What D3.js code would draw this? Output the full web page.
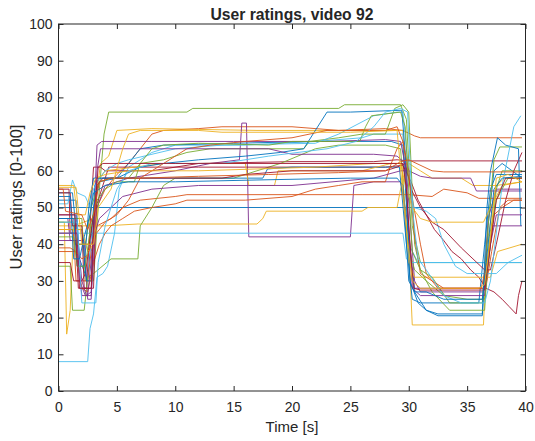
<!DOCTYPE html>
<html>
<head>
<meta charset="utf-8">
<script src="https://cdn.jsdelivr.net/npm/d3@7"></script>
<style>
  body { margin: 0; background: #fff; }
  text { font-family: "Liberation Sans", Arial, Helvetica, sans-serif; fill: #262626; }
</style>
</head>
<body>
<div id="chart"></div>
<script>
// each user: [time (s), rating] points
const u01 = [[0,50],[39.7,50]];
const u02 = [[0,44],[1.2,44],[1.4,40],[2.6,40],[3.0,48],[4,55],[5,59],[6,62],[7,66],[8,70],[9,71],[12,71.5],[14,72],[20,72],[24,71],[28,71.5],[29.5,71],[30.5,69.5],[31,69],[39.7,69]];
const u03 = [[0,46],[0.5,46],[0.7,15.5],[1.0,22],[1.3,45],[3,47],[3.6,62],[4.3,64],[5,71],[8,71.5],[17,71],[22,71],[29.5,71],[30,40],[30.3,18],[36.4,18],[36.7,40],[37.5,56],[39.7,57]];
const u04 = [[0,48],[1.5,48],[1.8,30],[2.3,26],[2.8,26],[3.3,50],[4,56],[6,58],[10,60],[13,62],[15.5,63],[15.7,73],[16.1,73],[16.3,42],[25,42],[25.3,56],[27,57],[29.3,57],[29.8,48],[30.5,28],[36.5,28],[37.2,45],[39.7,45]];
const u05 = [[0,47],[2,47],[2.3,30],[3.0,30],[3.5,55],[3.9,70],[4.3,76],[11,76],[11.5,77],[24,77],[24.5,78],[29.3,78],[29.8,74],[30.3,45],[31,35],[39.7,35]];
const u06 = [[0,8],[2.5,8],[2.7,17],[3.0,21],[3.3,31],[3.8,32],[4.2,34],[4.8,43],[5.2,55],[6,61],[8,65],[10,67],[16,67],[22,68],[26,69],[27,70],[29.5,70],[30,40],[30.8,35],[39.7,35]];
const u07 = [[0,55],[0.9,55],[1.0,43],[1.6,43],[1.8,28],[2.4,28],[2.7,45],[3.0,61],[3.6,61],[4,60],[8,60],[12,62],[20,62.5],[27,62.5],[29,63],[30,62.7],[39.7,62.7]];
const u08 = [[0,52],[1.5,52],[1.8,36],[2.5,30],[3,50],[3.5,57],[5,58],[7,66],[9,67],[15,67.5],[22,68],[28.5,68],[29.5,67],[30,40],[30.5,27],[31.5,22],[32.5,20.5],[36.3,20.5],[36.8,45],[37.3,60],[38,62],[39.7,58]];
const u09 = [[0,43],[1.3,43],[1.5,30],[2.5,30],[2.8,38],[3.3,45],[4.5,47],[5.5,50],[7,52],[10,53],[11,53.5],[26,53.5],[30,53.5],[32,53],[33,55],[35,54],[36,52.5],[39.7,52.5]];
const u10 = [[0,45],[4,45],[6.8,45.5],[17,45.5],[17.5,47],[17.8,49],[26,49],[26.5,50],[29,50],[29.3,55],[30,62],[31,60],[32,58],[34.5,58],[35.5,56],[37.5,56],[38.2,58],[39.7,58]];
const u11 = [[0,47],[0.8,47],[1.0,41],[2.2,41],[2.5,25],[2.8,25],[3.0,45],[3.3,67],[3.7,68],[8,68],[15,68],[23,68],[28,68.5],[29.3,68],[29.8,60],[30.5,30],[31,27],[36.4,27],[36.8,47],[37.5,55],[39.7,55]];
const u12 = [[0,34],[1.0,34],[1.2,22],[2.2,22],[2.5,31],[3.0,32],[4.5,36],[6.8,36],[7,45],[8,50],[9,56],[10,58],[15,58],[17,60],[19,62],[22,66],[24,67],[28,67],[29.3,66],[29.9,40],[30.5,33],[31.5,30],[33,26],[35,25],[36.5,25],[37,40],[37.5,55],[38,60],[39.7,60]];
const u13 = [[0,43],[29.5,43],[29.8,36],[30.3,35],[39.7,35]];
const u14 = [[0,35],[1.0,35],[1.3,30],[2,30],[2.3,32],[3,48],[4,58],[4.3,61],[6,61],[12,61],[20,61],[28,61],[29.5,61.5],[30.2,57],[30.8,52],[31.5,48],[32.2,44],[33,41],[33.7,38],[34.5,36],[35.3,33],[36,31],[36.6,28],[37.3,27],[38,25],[38.6,23],[39.2,21],[39.4,26],[39.7,30]];
const u15 = [[0,54],[1.2,54],[1.5,44],[2.0,44],[2.4,30],[2.8,30],[3.1,56],[3.5,58],[5,58],[12,58],[17.5,58],[17.9,60.5],[20,61],[28,61],[29.2,61],[29.8,40],[30.3,25],[31,24],[36,24],[36.5,40],[37,55],[37.5,59],[39.7,59]];
const u16 = [[0,38],[1.5,38],[2.0,28],[2.5,27],[3.0,35],[3.5,40],[4,43],[4.5,45],[5.5,47],[6.5,49],[8,50],[10,51],[11,52],[16,52],[20,53],[22,55],[24,56],[26,57],[28,57],[28.5,62],[29,66],[29.5,68],[30,58],[31,40],[31.5,32],[32.5,28],[36.6,28],[37.1,38],[37.8,50],[38.5,52],[39.7,52]];
const u17 = [[0,44],[2,44],[2.5,38],[3.0,40],[3.3,57],[4,60],[9,62],[16,62],[16.3,56],[18.5,56],[18.8,60],[26,60],[28.5,62],[29.4,62],[30,35],[30.5,31],[37,31],[37.6,38],[39.7,40]];
const u18 = [[0,41],[1.5,41],[2.0,26],[2.5,26],[3.0,42],[3.5,47],[4.5,50],[5.5,53],[8,55],[12,56],[20,56],[27,58],[29.3,60],[30,60],[31,58.5],[32,58],[35.3,58],[35.8,54.5],[39.7,54.5]];
const u19 = [[0,46],[1.3,46],[1.6,40],[2.3,40],[2.8,50],[3.5,57],[4.5,58],[6,58],[7,62],[9,63],[11,65],[13,66],[21,66],[21.5,68],[24,69],[26,70],[28,70],[28.8,77],[29.5,78],[30,76],[30.5,40],[31,33],[32,31],[33.5,24],[36.3,24],[36.8,45],[37.3,63],[37.8,66.5],[39.7,66.5]];
const u20 = [[0,51],[0.8,51],[1.2,57.5],[1.6,54],[2.3,53],[2.7,50],[3.0,55],[3.5,58],[4,60],[5,62],[6,63],[10,66],[14,67],[22,67.5],[24,70],[27,75],[29,76],[29.5,76],[30,60],[30.4,50],[31.5,49],[32.3,47],[33,40],[34,34],[35,32],[37.5,32],[38.5,35],[39.7,37]];
const u21 = [[0,54],[1,54],[1.2,45],[2.0,45],[2.2,28],[3,28],[3.3,56],[3.8,58],[5,58],[14,58],[16,59],[20,60],[28,60],[29,61],[29.7,62],[30.2,55],[31,50],[32,46],[33,44],[34.5,39],[35.5,36],[36.5,33],[37,33],[37.5,40],[38.3,52],[39,60],[39.7,65]];
const u22 = [[0,47],[1.3,47],[1.6,34],[2.2,34],[2.6,50],[3,58],[5,58],[7,61],[9,62],[12,63],[16,64],[19,65],[21,66],[23,76],[25,76],[29.4,76.5],[29.7,65],[30.1,30],[30.8,24],[31.5,22],[32.5,21],[36.3,21],[36.7,50],[37,60],[37.6,69],[38.3,67],[39.4,66],[39.6,45]];
const u23 = [[0,39],[1,39],[1.5,38],[2,36],[2.5,37],[3,42],[4,46],[5,48],[6,52],[7,58],[9,62],[11,66],[13,67],[16,68],[20,69],[23,71],[28,71],[29,72],[29.5,68],[30,60],[30.5,42],[31,32],[32,30],[33,28],[36.2,28],[36.7,35],[37.3,48],[38,50],[39,52],[39.7,52]];
const u24 = [[0,56],[1.3,56],[1.6,48],[2.3,48],[2.7,54],[3.2,58],[4,59],[6,60],[12,60],[22,61],[27,62],[29.3,62],[29.8,55],[30.3,50],[31,47],[32,46],[36.4,46],[37,50],[38,56],[39.7,57]];
const u25 = [[0,43],[1.6,43],[2.0,30],[2.4,26],[2.8,27],[3.3,60],[3.6,66],[4.5,66],[8,66],[18,66],[20,64.5],[27,64.5],[29,64],[29.7,62],[30.3,28],[31,26],[36.5,26],[37,40],[37.5,48],[39.7,48]];
const u26 = [[0,42],[1.3,42],[1.6,34],[2.3,34],[2.8,46],[3.3,52],[4,55],[5,57],[6.5,57],[7,62],[8,66],[9,67],[12,67.5],[18,67],[20,68],[25.8,68],[26.3,72],[26.8,75],[29.3,76],[29.7,72],[30.3,38],[31,33],[32,27],[33.5,22],[36.5,22],[36.9,42],[37.5,52],[38.5,58],[39.7,58]];
const u27 = [[0,46],[1.6,46],[2.0,24],[3.2,24],[3.4,35],[4,45],[5,55],[6,60],[8,62],[14,62],[18,64],[23,66],[25.5,68],[27,72],[28,76],[29.3,77],[29.9,76],[30.3,50],[30.8,36],[31.5,33],[33,26],[34.5,24],[36.5,24],[37,30],[38,56],[39,72],[39.6,75]];
const u28 = [[0,48],[1.4,48],[1.7,28],[2.8,28],[3.0,45],[3.4,61],[3.8,62],[10,62],[20,62],[29.5,62],[29.8,55],[30,45],[30.4,28],[31,27.5],[36.5,27.5],[37,40],[37.5,52],[38.3,58],[39.7,58]];
const u29 = [[0,53],[1,53],[1.3,36],[1.8,36],[2.2,42],[2.7,48],[3,54],[4,56],[6,57],[10,57],[17,57.5],[25,58],[29,58],[29.5,56],[30,30],[30.5,27],[31.5,27],[33,25],[36.3,25],[36.8,40],[37.3,55],[38,58],[39.7,58.5]];
const u30 = [[0,55],[0.4,55],[0.6,49],[2,48],[2.5,44],[3,48],[3.5,57],[4.5,58],[7,58],[12,58.5],[18,59],[24,59.5],[28,60],[29.3,62.5],[30,63],[32,60],[33,59.7],[39.7,59.7]];
const u31 = [[0,55.5],[1.5,55.5],[2,40],[3,40],[3.4,50],[4.5,55],[5.5,66],[6,70],[7,71],[12,71],[14,70.5],[25,70.5],[29,71],[29.6,50],[30.3,30],[31,28],[36,28],[36.5,29],[37,42],[37.5,58],[38.5,59],[39.7,57]];

const users = [u01,u02,u03,u04,u05,u06,u07,u08,u09,u10,u11,u12,u13,u14,u15,u16,u17,u18,u19,u20,u21,u22,u23,u24,u25,u26,u27,u28,u29,u30,u31];
const xTicks = [0,5,10,15,20,25,30,35,40];
const yTicks = [0,10,20,30,40,50,60,70,80,90,100];

// matlab default line colour order
const colours = ['#0072BD','#D95319','#EDB120','#7E2F8E','#77AC30','#4DBEEE','#A2142F'];

const width = 535, height = 441;
const svg = d3.select('#chart').append('svg')
  .attr('width', width)
  .attr('height', height);

const x = d3.scaleLinear().domain([0, 40]).range([58.5, 525.5]);
const y = d3.scaleLinear().domain([0, 100]).range([391, 24]);

const line = d3.line()
  .x(d => x(d[0]))
  .y(d => y(d[1]));

svg.append('g')
  .selectAll('path')
  .data(users)
  .join('path')
  .attr('d', line)
  .attr('fill', 'none')
  .attr('stroke', (d, i) => colours[i % colours.length])
  .attr('stroke-width', 0.9);

// box and inward ticks on all four sides
svg.append('rect')
  .attr('x', x(0)).attr('y', y(100))
  .attr('width', x(40) - x(0)).attr('height', y(0) - y(100))
  .attr('fill', 'none')
  .attr('stroke', '#262626')
  .attr('stroke-width', 1);

const styleAxis = g => {
  g.select('.domain').remove();
  g.selectAll('line').attr('stroke', '#262626');
  g.selectAll('text')
    .style('font-size', '14px')
    .attr('fill', '#262626');
};

svg.append('g')
  .attr('transform', 'translate(0,' + y(0) + ')')
  .call(d3.axisBottom(x).tickValues(xTicks).tickSizeInner(-5).tickSizeOuter(0).tickPadding(11))
  .call(styleAxis);

svg.append('g')
  .attr('transform', 'translate(' + x(0) + ',0)')
  .call(d3.axisLeft(y).tickValues(yTicks).tickSizeInner(-5).tickSizeOuter(0).tickPadding(6))
  .call(styleAxis);

svg.append('g')
  .attr('transform', 'translate(0,' + y(100) + ')')
  .call(d3.axisTop(x).tickValues(xTicks).tickSizeInner(-5).tickSizeOuter(0).tickFormat(''))
  .call(styleAxis);

svg.append('g')
  .attr('transform', 'translate(' + x(40) + ',0)')
  .call(d3.axisRight(y).tickValues(yTicks).tickSizeInner(-5).tickSizeOuter(0).tickFormat(''))
  .call(styleAxis);

svg.append('text')
  .attr('x', (x(0) + x(40)) / 2)
  .attr('y', 20)
  .attr('text-anchor', 'middle')
  .style('font-size', '15.7px')
  .style('font-weight', 'bold')
  .attr('fill', '#000')
  .text('User ratings, video 92');

svg.append('text')
  .attr('x', (x(0) + x(40)) / 2)
  .attr('y', 432)
  .attr('text-anchor', 'middle')
  .style('font-size', '15px')
  .text('Time [s]');

svg.append('text')
  .attr('transform', 'translate(22,197) rotate(-90)')
  .attr('text-anchor', 'middle')
  .style('font-size', '16.5px')
  .text('User ratings [0-100]');
</script>
</body>
</html>
